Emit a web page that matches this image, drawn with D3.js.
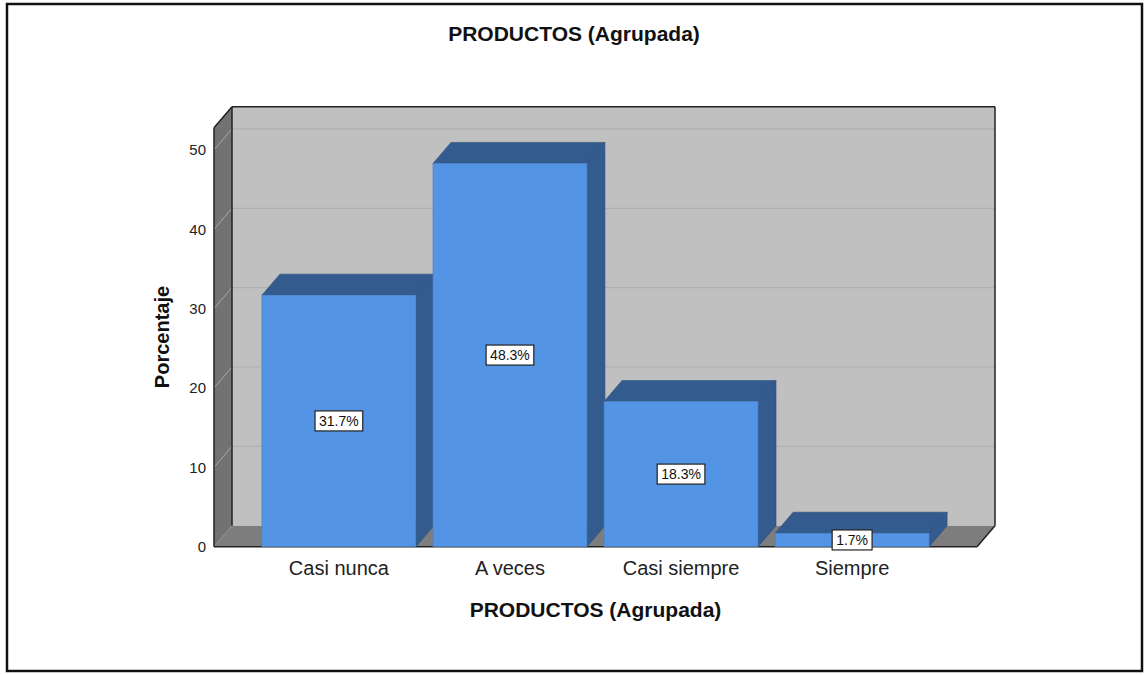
<!DOCTYPE html>
<html>
<head>
<meta charset="utf-8">
<script src="https://cdn.jsdelivr.net/npm/d3@7"></script>
<style>
  body { margin: 0; background: #fff; }
  svg { display: block; font-family: "Liberation Sans", Arial, sans-serif; }
</style>
</head>
<body>
<div id="container"></div>
<script>
// Chart data
const categories = ["Casi nunca", "A veces", "Casi siempre", "Siempre"];
const percentages = [31.7, 48.3, 18.3, 1.7];
const yTicks = [0, 10, 20, 30, 40, 50];
const yMax = 52.8;

const TITLE = "PRODUCTOS (Agrupada)";
const X_TITLE = "PRODUCTOS (Agrupada)";
const Y_TITLE = "Porcentaje";

const W = 1144, H = 675;

// 3D depth offset
const dx = 18, dy = -21;

// Front plane of the plot
const plot = { left: 214, right: 977, bottom: 546.7, top: 127.7 };

const svg = d3.select("#container")
    .append("svg")
    .attr("width", W)
    .attr("height", H);

// Scales
const x = d3.scaleBand()
    .domain(categories)
    .range([plot.left, plot.right])
    .paddingInner(0.1)
    .paddingOuter(0.28);

const y = d3.scaleLinear()
    .domain([0, yMax])
    .range([plot.bottom, plot.top]);

const pts = arr => arr.map(p => p.join(",")).join(" ");

// Back wall
svg.append("rect")
    .attr("x", plot.left + dx)
    .attr("y", y(yMax) + dy)
    .attr("width", plot.right - plot.left)
    .attr("height", y(0) - y(yMax))
    .attr("fill", "#c0c0c0");

// Back wall gridlines
svg.append("g")
    .selectAll("line")
    .data(yTicks.filter(d => d > 0))
    .join("line")
    .attr("x1", plot.left + dx)
    .attr("x2", plot.right + dx)
    .attr("y1", d => y(d) + dy)
    .attr("y2", d => y(d) + dy)
    .attr("stroke", "#b0b0b0")
    .attr("stroke-width", 1.2);

// Left wall
svg.append("polygon")
    .attr("points", pts([
        [plot.left, y(yMax)],
        [plot.left + dx, y(yMax) + dy],
        [plot.left + dx, y(0) + dy],
        [plot.left, y(0)]
    ]))
    .attr("fill", "#727272");

// Left wall gridlines
svg.append("g")
    .selectAll("line")
    .data(yTicks.filter(d => d > 0))
    .join("line")
    .attr("x1", plot.left)
    .attr("x2", plot.left + dx)
    .attr("y1", d => y(d))
    .attr("y2", d => y(d) + dy)
    .attr("stroke", "#a8a8a8")
    .attr("stroke-width", 1);

// Floor
svg.append("polygon")
    .attr("points", pts([
        [plot.left, y(0)],
        [plot.left + dx, y(0) + dy],
        [plot.right + dx, y(0) + dy],
        [plot.right, y(0)]
    ]))
    .attr("fill", "#7d7d7d");

// Frame edges
const edges = [
    [[plot.left + dx, y(yMax) + dy], [plot.right + dx, y(yMax) + dy]],
    [[plot.right + dx, y(yMax) + dy], [plot.right + dx, y(0) + dy]],
    [[plot.right + dx, y(0) + dy], [plot.right, y(0)]],
    [[plot.left + dx, y(yMax) + dy], [plot.left + dx, y(0) + dy]],
    [[plot.left, y(yMax)], [plot.left + dx, y(yMax) + dy]],
    [[plot.left, y(yMax)], [plot.left, y(0)]],
    [[plot.left, y(0)], [plot.right, y(0)]]
];
svg.append("g")
    .selectAll("line")
    .data(edges)
    .join("line")
    .attr("x1", d => d[0][0])
    .attr("y1", d => d[0][1])
    .attr("x2", d => d[1][0])
    .attr("y2", d => d[1][1])
    .attr("stroke", "#222")
    .attr("stroke-width", 1.5);

// Bars
const bars = svg.append("g")
    .selectAll("g")
    .data(categories.map((c, i) => ({ cat: c, val: percentages[i] })))
    .join("g");

const bw = x.bandwidth();

// side face
bars.append("polygon")
    .attr("points", d => pts([
        [x(d.cat) + bw, y(d.val)],
        [x(d.cat) + bw + dx, y(d.val) + dy],
        [x(d.cat) + bw + dx, y(0) + dy],
        [x(d.cat) + bw, y(0)]
    ]))
    .attr("fill", "#335b8d")
    .attr("stroke", "#2c4f7c")
    .attr("stroke-width", 0.6);

// top face
bars.append("polygon")
    .attr("points", d => pts([
        [x(d.cat), y(d.val)],
        [x(d.cat) + dx, y(d.val) + dy],
        [x(d.cat) + bw + dx, y(d.val) + dy],
        [x(d.cat) + bw, y(d.val)]
    ]))
    .attr("fill", "#335b8d")
    .attr("stroke", "#2c4f7c")
    .attr("stroke-width", 0.6);

// front face
bars.append("rect")
    .attr("x", d => x(d.cat))
    .attr("y", d => y(d.val))
    .attr("width", bw)
    .attr("height", d => y(0) - y(d.val))
    .attr("fill", "#5394e4")
    .attr("stroke", "#4a7fc0")
    .attr("stroke-width", 0.6);

// Value labels
const labels = svg.append("g")
    .selectAll("g")
    .data(categories.map((c, i) => ({ cat: c, val: percentages[i] })))
    .join("g")
    .attr("transform", d => "translate(" + (x(d.cat) + bw / 2) + "," + ((y(d.val) + y(0)) / 2) + ")");

labels.append("text")
    .attr("text-anchor", "middle")
    .attr("dy", "0.36em")
    .style("font-size", "14px")
    .attr("fill", "#111")
    .text(d => d.val.toFixed(1) + "%");

labels.each(function () {
    const g = d3.select(this);
    const bb = g.select("text").node().getBBox();
    g.insert("rect", "text")
        .attr("x", bb.x - 4)
        .attr("y", -10)
        .attr("width", bb.width + 8)
        .attr("height", 20)
        .attr("fill", "#fff")
        .attr("stroke", "#222")
        .attr("stroke-width", 1.2);
});

// Y axis tick labels
const yAxis = svg.append("g")
    .attr("transform", "translate(" + plot.left + ",0)")
    .call(d3.axisLeft(y).tickValues(yTicks).tickSize(0).tickPadding(8));
yAxis.select(".domain").remove();
yAxis.selectAll("text")
    .attr("font-family", null)
    .style("font-size", "15px")
    .attr("fill", "#222");

// X axis category labels
const xAxis = svg.append("g")
    .attr("transform", "translate(0," + plot.bottom + ")")
    .call(d3.axisBottom(x).tickSize(0).tickPadding(14));
xAxis.select(".domain").remove();
xAxis.selectAll("text")
    .attr("font-family", null)
    .style("font-size", "20px")
    .attr("fill", "#222");

// Titles
svg.append("text")
    .attr("x", 574)
    .attr("y", 41)
    .attr("text-anchor", "middle")
    .style("font-size", "21px")
    .style("font-weight", "bold")
    .attr("fill", "#111")
    .text(TITLE);

svg.append("text")
    .attr("x", (plot.left + plot.right) / 2)
    .attr("y", 617)
    .attr("text-anchor", "middle")
    .style("font-size", "21px")
    .style("font-weight", "bold")
    .attr("fill", "#111")
    .text(X_TITLE);

svg.append("text")
    .attr("transform", "translate(169,337) rotate(-90)")
    .attr("text-anchor", "middle")
    .style("font-size", "20px")
    .style("font-weight", "bold")
    .attr("fill", "#111")
    .text(Y_TITLE);

// Outer frame
svg.append("rect")
    .attr("x", 7)
    .attr("y", 4)
    .attr("width", 1135)
    .attr("height", 667)
    .attr("fill", "none")
    .attr("stroke", "#111")
    .attr("stroke-width", 2.5);
</script>
</body>
</html>
